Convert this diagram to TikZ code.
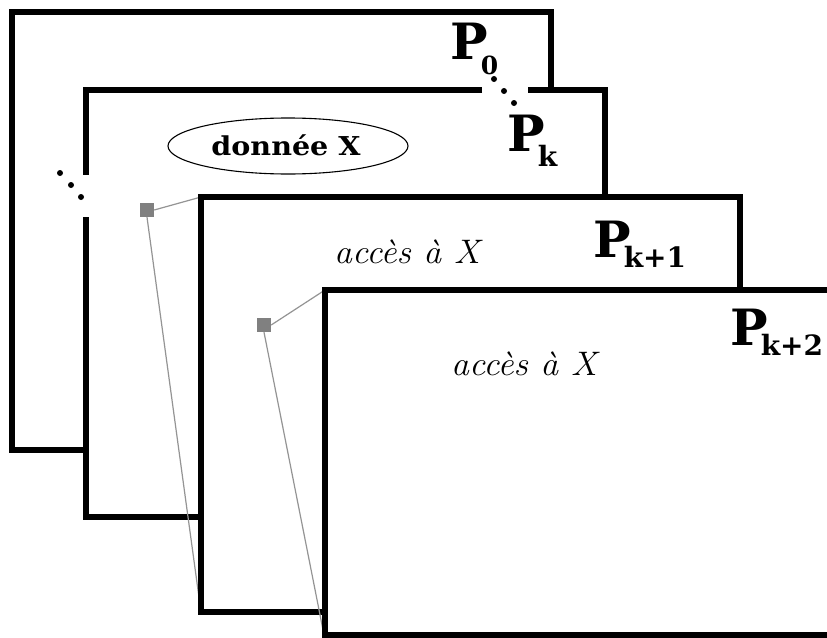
\documentclass[tikz,border=0pt]{standalone}
\usepackage{fontspec}
\usetikzlibrary{shapes.geometric}
\newfontfamily\slab{DejaVu Serif}[UprightFont={* Bold}]
\newcommand{\plab}[3]{{\fontsize{50}{50}\selectfont\slab P}\kern-7pt\raisebox{-#1}{\fontsize{#2}{#2}\selectfont\slab #3}}
\begin{document}
\begin{tikzpicture}[x=1pt,y=-1pt,
  frame/.style={line width=5.2pt, line join=miter},
  link/.style={draw=black!42, line width=1.2pt},
  dotb/.style={circle, fill=black, inner sep=0pt, minimum size=6pt},
  sq/.style={rectangle, fill=gray, inner sep=0pt, minimum size=14pt},
  acc/.style={inner sep=0pt, anchor=base west, font=\fontsize{34}{34}\selectfont\itshape},
  plabel/.style={inner sep=0pt, anchor=base west},
 ]
\useasboundingbox (0,0) rectangle (827,637);
\clip (0,0) rectangle (827,637);
\fill[white] (0,0) rectangle (827,637);

% P0
\filldraw[frame, fill=white] (12,12) rectangle (551,450);

% Pk
\fill[white] (86,90) rectangle (605,517);
\draw[frame] (482,90) -- (86,90) -- (86,175);
\draw[frame] (86,217) -- (86,517) -- (605,517) -- (605,90) -- (528,90);
\node[dotb] (t1) at (494,79) {};
\node[dotb] (t2) at (504,91) {};
\node[dotb] (t3) at (514,103) {};
\node[dotb] (l1) at (60,173) {};
\node[dotb] (l2) at (71,185) {};
\node[dotb] (l3) at (81,197) {};
\node[draw, ellipse, line width=1.1pt, minimum width=240pt, minimum height=56pt] (don) at (288,146) {};
\node[inner sep=0pt, anchor=base] (dontxt) at (286,155) {\scalebox{1.1}[1]{\fontsize{26}{26}\selectfont\slab donnée X}};

% links to Pk+1
\coordinate (r3nw) at (201,197);
\coordinate (r3sw) at (201,612);
\node[sq] (s1) at (147,210) {};
\draw[link] (s1.east) -- (r3nw);
\draw[link] (s1.south) -- (r3sw);

% Pk+1
\filldraw[frame, fill=white] (201,197) rectangle (740,612);
\node[acc] (acc1) at (334,263) {\scalebox{1.05}[1]{accès à X}};

% links to Pk+2
\coordinate (r4nw) at (325,290);
\coordinate (r4sw) at (325,640);
\node[sq] (s2) at (264,325) {};
\draw[link] (s2.east) -- (r4nw);
\draw[link] (s2.south) -- (r4sw);

% Pk+2
\filldraw[frame, fill=white] (325,290) rectangle (845,635);
\node[acc] (acc2) at (451,375) {\scalebox{1.05}[1]{accès à X}};

% labels
\node[plabel] (p0) at (450,59) {\plab{15pt}{25}{0}};
\node[plabel] (pk) at (507,151) {\plab{15pt}{28}{k}};
\node[plabel] (pk1) at (593,257) {\plab{10pt}{28}{k+1}};
\node[plabel] (pk2) at (730,345) {\plab{10pt}{28}{k+2}};
\end{tikzpicture}
\end{document}
